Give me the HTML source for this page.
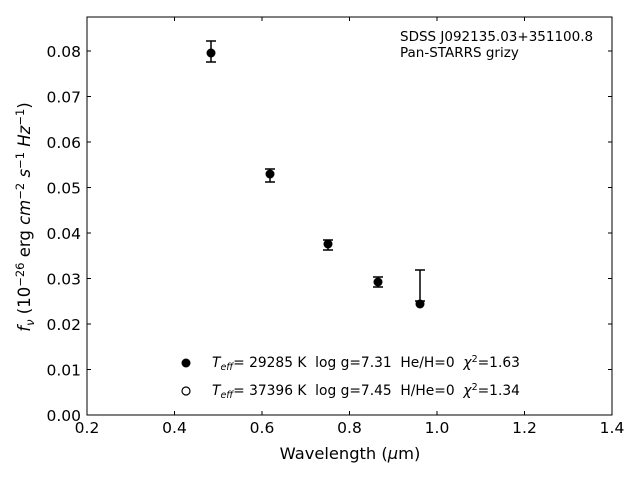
<!DOCTYPE html>
<html><head><style>body{margin:0;background:#fff}svg{display:block}text{white-space:pre}</style></head><body>
<svg width="640" height="480" xmlns="http://www.w3.org/2000/svg" font-family="DejaVu Sans, Liberation Sans, sans-serif">
<rect width="640" height="480" fill="#fff"/>
<rect x="87" y="17" width="525" height="398" fill="none" stroke="#000" stroke-width="1"/>
<g stroke="#000" stroke-width="1">
<path d="M87 415v-4M174.5 415v-4M262 415v-4M349.5 415v-4M437 415v-4M524.5 415v-4M612 415v-4"/>
<path d="M87 17v4M174.5 17v4M262 17v4M349.5 17v4M437 17v4M524.5 17v4M612 17v4"/>
<path d="M87 415h4M87 369.5h4M87 324h4M87 278.5h4M87 233h4M87 187.5h4M87 142h4M87 96.5h4M87 51h4"/>
<path d="M612 415h-4M612 369.5h-4M612 324h-4M612 278.5h-4M612 233h-4M612 187.5h-4M612 142h-4M612 96.5h-4M612 51h-4"/>
</g>
<g font-size="15.5" text-anchor="middle" fill="#000">
<text x="87" y="433">0.2</text><text x="174.5" y="433">0.4</text><text x="262" y="433">0.6</text><text x="349.5" y="433">0.8</text><text x="437" y="433">1.0</text><text x="524.5" y="433">1.2</text><text x="612" y="433">1.4</text>
</g>
<g font-size="15.5" text-anchor="end" fill="#000">
<text x="81" y="421">0.00</text><text x="81" y="375.5">0.01</text><text x="81" y="330">0.02</text><text x="81" y="284.5">0.03</text><text x="81" y="239">0.04</text><text x="81" y="193.5">0.05</text><text x="81" y="148">0.06</text><text x="81" y="102.5">0.07</text><text x="81" y="57">0.08</text>
</g>
<text x="350" y="459" font-size="16.3" text-anchor="middle">Wavelength (<tspan font-style="italic">μ</tspan>m)</text>
<text transform="translate(30,217) rotate(-90)" font-size="16.5" text-anchor="middle"><tspan font-style="italic">f</tspan><tspan font-style="italic" font-size="11.5" dy="4">ν</tspan><tspan dy="-4"> (10</tspan><tspan font-size="11.5" dy="-6">−26</tspan><tspan dy="6"> erg </tspan><tspan font-style="italic">cm</tspan><tspan font-size="11.5" dy="-6">−2</tspan><tspan dy="6"> </tspan><tspan font-style="italic">s</tspan><tspan font-size="11.5" dy="-6">−1</tspan><tspan dy="6"> </tspan><tspan font-style="italic">Hz</tspan><tspan font-size="11.5" dy="-6">−1</tspan><tspan dy="6">)</tspan></text>
<text x="400" y="41" font-size="13.5">SDSS J092135.03+351100.8</text>
<text x="400" y="57" font-size="13.5">Pan-STARRS grizy</text>
<g stroke="#000" stroke-width="1.5" fill="none">
<path d="M211 41v21M206 41h10M206 62h10"/>
<path d="M270 169v13M265 169h10M265 182h10"/>
<path d="M328 240v10M323 240h10M323 250h10"/>
<path d="M378 277v10M373 277h10M373 287h10"/>
<path d="M420 270v31M415 270h10M415 301h10"/>
</g>
<g fill="#000">
<circle cx="211" cy="53" r="4.5"/><circle cx="270" cy="174" r="4.5"/><circle cx="328" cy="244" r="4.5"/><circle cx="378" cy="282" r="4.5"/><circle cx="420" cy="304" r="4.5"/>
</g>
<circle cx="186" cy="363" r="4.5" fill="#000"/>
<circle cx="186" cy="391" r="4" fill="#fff" stroke="#000" stroke-width="1.2"/>
<g font-size="13.8">
<text x="212" y="367"><tspan font-style="italic">T</tspan><tspan font-style="italic" font-size="9.5" dy="3">eff</tspan><tspan dy="-3">= 29285 K  log g=7.31  He/H=0  </tspan><tspan font-style="italic">χ</tspan><tspan font-size="9.5" dy="-5">2</tspan><tspan dy="5">=1.63</tspan></text>
<text x="212" y="395"><tspan font-style="italic">T</tspan><tspan font-style="italic" font-size="9.5" dy="3">eff</tspan><tspan dy="-3">= 37396 K  log g=7.45  H/He=0  </tspan><tspan font-style="italic">χ</tspan><tspan font-size="9.5" dy="-5">2</tspan><tspan dy="5">=1.34</tspan></text>
</g>
</svg>
</body></html>
